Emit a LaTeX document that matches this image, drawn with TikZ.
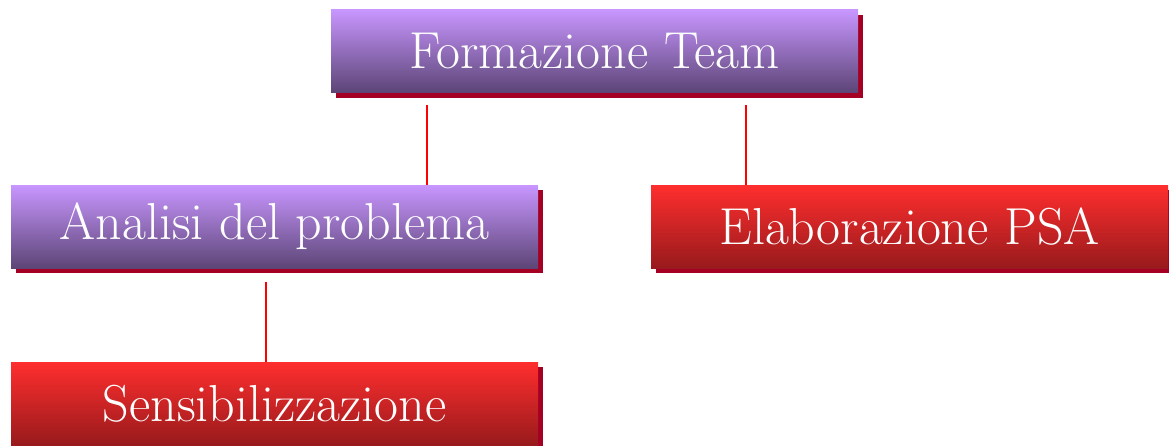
\documentclass[tikz,border=0pt]{standalone}
\usetikzlibrary{shadows}
\definecolor{ptop}{HTML}{C896FF}
\definecolor{pmid}{HTML}{A381CF}
\definecolor{pbot}{HTML}{5C4576}
\definecolor{rtop}{HTML}{FF2E2E}
\definecolor{rmid}{HTML}{D42626}
\definecolor{rbot}{HTML}{981A1C}
\definecolor{shad}{HTML}{A50024}
\definecolor{lred}{HTML}{FF0000}
\tikzset{
  box/.style={rectangle, inner sep=0pt, text=white, font=\fontsize{52}{56}\selectfont,
    drop shadow={shadow xshift=5pt, shadow yshift=-5pt, fill=shad, opacity=1}},
  purplebox/.style={box, top color=ptop, middle color=pmid, bottom color=pbot},
  redbox/.style={box, top color=rtop, middle color=rmid, bottom color=rbot},
  link/.style={draw=lred, line width=2pt}
}
\begin{document}
\begin{tikzpicture}[x=1pt,y=-1pt]
\useasboundingbox (0,0) rectangle (1169,445);
\node[purplebox, minimum width=527pt, minimum height=83pt] (ft) at (594.5,51) {Formazione Team};
\node[purplebox, minimum width=527pt, minimum height=83pt] (ap) at (274.5,226.5) {Analisi del problema};
\node[redbox, minimum width=517pt, minimum height=83pt] (el) at (909.5,226.5) {Elaborazione PSA};
\node[redbox, minimum width=527pt, minimum height=83pt] (se) at (274.5,403.5) {Sensibilizzazione};
\coordinate (c1) at (427,105);
\coordinate (c2) at (746,105);
\coordinate (c3) at (266,282);
\draw[link] (c1) -- (c1 |- ap.north);
\draw[link] (c2) -- (c2 |- el.north);
\draw[link] (c3) -- (c3 |- se.north);
\end{tikzpicture}
\end{document}
